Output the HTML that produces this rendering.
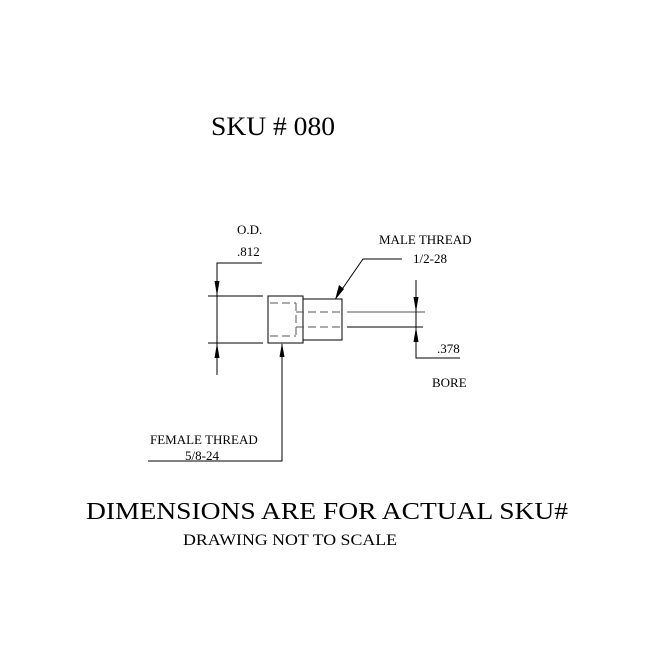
<!DOCTYPE html>
<html><head><meta charset="utf-8"><style>html,body{margin:0;padding:0;background:#fff}svg{display:block}</style></head>
<body>
<svg width="660" height="652" viewBox="0 0 660 652" xmlns="http://www.w3.org/2000/svg" font-family="Liberation Serif, serif" fill="#000">
<text x="211" y="135" font-size="26" textLength="124" lengthAdjust="spacingAndGlyphs">SKU # 080</text>
<g stroke="#000" stroke-width="1" fill="none">
<!-- OD dimension -->
<polyline points="262,263 217,263 217,375"/>
<line x1="208" y1="296" x2="263" y2="296"/>
<line x1="208" y1="343" x2="263" y2="343"/>
<!-- bodies -->
<rect x="268" y="296" width="35" height="47"/>
<rect x="303" y="299" width="39" height="41"/>
<!-- hidden lines -->
<g stroke="#555" stroke-dasharray="8,4">
<line x1="270" y1="303" x2="296" y2="303"/>
<line x1="270" y1="336" x2="296" y2="336"/>
<line x1="296" y1="303" x2="296" y2="336"/>
<line x1="296" y1="312" x2="342" y2="312"/>
<line x1="296" y1="327" x2="342" y2="327"/>
</g>
<line x1="347" y1="312" x2="425" y2="312" stroke="#555"/>
<line x1="347" y1="327" x2="423" y2="327"/>
<!-- bore dimension -->
<polyline points="416,280 416,358 460,358"/>
<!-- male leader -->
<polyline points="402,259 363,259 336,298"/>
<!-- female leader -->
<polyline points="282,344 282,461 148,461"/>
</g>
<g stroke="none" fill="#000">
<polygon points="217,296 214.5,281 219.5,281"/>
<polygon points="217,343 214.5,358 219.5,358"/>
<polygon points="416,312 413.5,297 418.5,297"/>
<polygon points="416,327 413.5,342 418.5,342"/>
<polygon points="282,343 279.5,357 284.5,357"/>
<polygon points="335,300 339,285 344,289"/>
</g>
<g font-size="13">
<text x="237" y="234">O.D.</text>
<text x="237" y="256">.812</text>
<text x="379" y="244">MALE THREAD</text>
<text x="413" y="263">1/2-28</text>
<text x="437" y="353">.378</text>
<text x="432" y="387">BORE</text>
<text x="150" y="444">FEMALE THREAD</text>
<text x="185" y="460">5/8-24</text>
</g>
<text x="86" y="519" font-size="24" textLength="482" lengthAdjust="spacingAndGlyphs">DIMENSIONS ARE FOR ACTUAL SKU#</text>
<text x="183" y="545" font-size="16" textLength="214" lengthAdjust="spacingAndGlyphs">DRAWING NOT TO SCALE</text>
</svg>
</body></html>
